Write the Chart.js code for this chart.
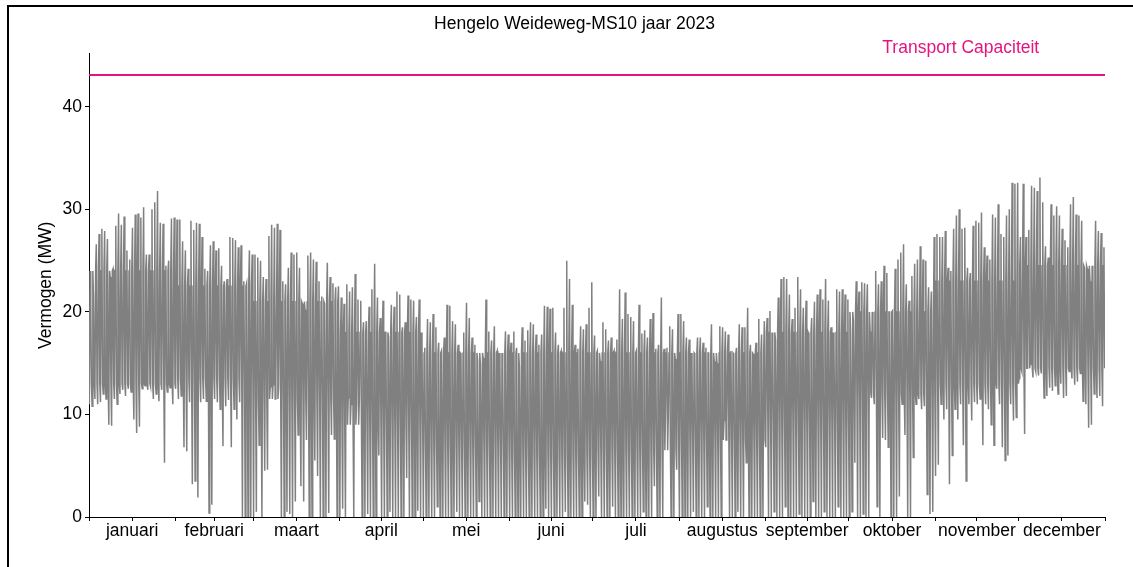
<!DOCTYPE html>
<html>
<head>
<meta charset="utf-8">
<title>Hengelo Weideweg-MS10 jaar 2023</title>
<script src="https://cdn.jsdelivr.net/npm/chart.js@4.4.0/dist/chart.umd.min.js"></script>
<style>
    html, body { margin: 0; padding: 0; background: #fff; overflow: hidden; }
    body { width: 1133px; height: 567px; position: relative; }
    .frame { position: absolute; left: 7px; top: 5px; border-left: 2px solid #000; border-top: 2px solid #000; }
    canvas { display: block; }
</style>
</head>
<body>
<div class="frame"><canvas id="loadChart" width="1131" height="560"></canvas></div>
<script>
const chartTitle = 'Hengelo Weideweg-MS10 jaar 2023';
const monthNames = ['januari', 'februari', 'maart', 'april', 'mei', 'juni',
    'juli', 'augustus', 'september', 'oktober', 'november', 'december'];
const monthDays = [31, 28, 31, 30, 31, 30, 31, 31, 30, 31, 30, 31];

// dense part of the daily load band (MW), per month
const bandTop = [24, 22.5, 21, 18, 16, 16, 16, 16, 18, 20, 23, 24.5];
const bandBottom = [13, 13.5, 11.5, 9, 7, 6, 6.5, 7.5, 9.5, 12, 13, 14.5];

// daily maximum (MW), one row per month
const dailyPeak = [
    21.2, 21.4, 26.6, 27.6, 28.1, 27.9, 27.1, 23.4, 24.2, 28.4, 29.6, 28.5, 29.3, 26.0, 25.1, 28.2, 29.5, 29.6, 29.2, 30.2, 25.6, 25.6, 30.0, 30.7, 31.8, 28.7, 28.6, 24.5, 25.0, 29.1, 29.2,
    29.0, 29.0, 26.9, 26.0, 24.2, 28.9, 28.0, 28.7, 28.6, 27.3, 24.2, 24.0, 26.5, 26.9, 26.0, 26.2, 24.5, 23.0, 23.2, 27.3, 27.2, 27.0, 26.3, 26.5, 23.0, 22.8, 26.0, 25.6,
    25.6, 25.3, 25.0, 23.4, 23.2, 27.4, 28.5, 28.2, 28.6, 28.0, 23.0, 22.7, 24.3, 25.8, 25.6, 25.8, 24.3, 20.8, 20.2, 25.5, 25.8, 25.1, 24.9, 23.0, 21.5, 20.8, 24.8, 23.4, 22.8, 22.4, 22.5,
    21.4, 20.8, 22.7, 22.0, 22.4, 23.7, 21.2, 21.1, 19.0, 19.1, 20.5, 22.2, 24.7, 21.4, 19.4, 21.1, 18.1, 17.5, 20.7, 20.5, 22.0, 21.7, 18.5, 19.0, 21.6, 21.2, 21.1, 19.5, 21.2, 16.5,
    16.5, 19.3, 19.0, 19.8, 18.5, 17.0, 16.2, 17.5, 20.7, 20.6, 19.1, 18.8, 16.8, 15.9, 18.0, 20.9, 19.4, 17.5, 16.8, 15.2, 14.9, 15.5, 21.2, 18.1, 17.2, 18.6, 16.2, 14.9, 14.6, 18.1, 17.8,
    17.0, 18.1, 16.5, 14.6, 18.5, 17.2, 18.2, 19.0, 18.8, 17.8, 16.8, 17.8, 20.6, 20.5, 20.3, 20.4, 18.0, 16.8, 16.2, 20.4, 25.0, 23.2, 20.7, 16.8, 16.4, 18.6, 18.3, 18.8, 20.4, 22.9,
    17.7, 16.2, 15.2, 19.0, 18.3, 17.2, 17.5, 16.2, 17.3, 22.2, 19.3, 21.9, 19.8, 19.5, 19.1, 16.2, 20.7, 17.9, 18.2, 17.5, 19.3, 19.9, 16.4, 16.8, 21.4, 16.4, 16.5, 18.6, 18.3, 15.4, 19.8,
    19.8, 19.1, 17.5, 17.3, 15.0, 15.9, 17.5, 17.5, 17.0, 16.5, 16.0, 18.8, 15.2, 15.0, 18.6, 18.5, 18.1, 17.8, 16.2, 15.9, 16.5, 18.8, 18.5, 18.5, 20.4, 16.8, 15.9, 17.0, 19.3, 17.8, 19.1,
    19.4, 20.1, 16.8, 17.2, 21.4, 23.2, 23.4, 23.2, 21.7, 19.3, 20.4, 23.4, 22.2, 20.4, 21.1, 17.8, 19.4, 21.0, 21.7, 22.2, 21.2, 23.2, 21.1, 18.5, 16.8, 22.2, 22.0, 22.2, 21.7, 21.2,
    18.1, 19.1, 23.0, 22.0, 22.9, 22.8, 22.7, 18.1, 19.0, 24.0, 22.7, 23.0, 24.5, 23.8, 20.0, 20.1, 24.2, 25.1, 25.8, 26.6, 22.7, 21.1, 23.5, 24.7, 25.1, 26.4, 25.1, 25.0, 22.4, 22.0, 27.3,
    27.6, 27.3, 27.3, 27.9, 24.3, 24.0, 28.1, 29.4, 30.0, 28.1, 28.2, 24.3, 23.8, 28.4, 28.9, 28.7, 29.7, 26.3, 25.5, 25.1, 29.5, 29.2, 30.5, 27.6, 27.3, 29.4, 30.0, 32.6, 32.5, 32.6,
    27.3, 32.5, 27.3, 28.0, 32.3, 32.1, 31.8, 33.1, 30.7, 26.4, 25.3, 30.5, 29.4, 30.3, 29.4, 28.1, 27.0, 26.3, 30.5, 31.2, 29.5, 29.4, 28.9, 24.3, 24.2, 23.0, 24.0, 28.9, 27.9, 27.7, 26.3
];

// daily minimum (MW), one row per month
const dailyLow = [
    11, 10.8, 11.5, 11, 11.2, 12, 11.5, 9, 8.9, 11.5, 11, 12, 12.4, 11.8, 12.5, 12.2, 9.5, 8.2, 8.8, 12.5, 12.8, 12.4, 12.7, 11.5, 12, 11.3, 12.4, 5.3, 12.2, 12.6, 11,
    12.5, 11.5, 11.8, 6.8, 6.4, 11.2, 3.2, 3.5, 1.9, 11.2, 11.5, 11.3, 0.4, 1.2, 11.5, 11.2, 10.5, 6.9, 10.8, 11.4, 6.8, 10.5, 9.5, 11.2, 0, 0, 0, 0,
    0, 0.5, 7, 0, 4.5, 4.6, 12.7, 12.9, 13.2, 12.6, 0, 0, 0.5, 0.3, 0, 1.5, 8, 3, 1.5, 7.5, 0, 0, 5.5, 4, 0, 0, 0, 0.4, 8, 7.6, 0,
    0, 0.8, 0, 11.6, 11, 0, 11, 11.5, 0, 0, 0.3, 0, 0, 0, 6, 0, 0, 0, 0.5, 0, 0, 0, 0, 0, 3.8, 0, 0, 0, 0.6, 0,
    0, 0, 0, 0, 0, 1.0, 0, 0, 0, 0, 0, 0, 0.5, 0, 0, 0, 0, 0, 0, 0, 1.5, 0, 0, 0, 0, 0, 0, 0, 0, 0, 0,
    0, 0, 0, 0, 0, 0, 0, 0, 0, 0, 0, 0, 0, 0.8, 0, 0, 0, 0, 0, 0, 0.5, 0, 0, 0, 0, 0, 0, 1.5, 1.2, 0,
    0, 0, 2.0, 0, 0, 0, 0, 1.0, 0, 0, 0, 0, 0, 0, 0, 0, 0, 0, 0.5, 0, 0, 0, 3.0, 0, 0, 0, 10.3, 10.0, 0, 0, 4.6,
    0, 0, 0, 0, 0, 0.5, 0, 0, 0, 0, 1.0, 0, 0, 0, 0, 0, 9.4, 9.0, 0, 0, 0, 0.5, 0, 0, 5.3, 0, 0, 0, 0, 0, 0,
    6.8, 0, 0, 0.5, 0, 0, 0, 1.0, 0, 0, 0, 0, 0.3, 0, 0, 0, 0, 1.5, 0, 0, 0, 0.5, 0, 0, 0, 0, 1.0, 0, 0, 0,
    0, 0.5, 5.3, 0, 0, 0.3, 0, 0, 11.6, 11.0, 1.0, 0, 7.7, 7.5, 6.8, 0, 0, 0, 2.0, 11.0, 8.0, 0, 0, 5.8, 11.0, 11.5, 10.5, 10.8, 2.2, 0.3, 0.5,
    4.0, 5.1, 11.0, 9.5, 10.5, 3.2, 6.0, 10.5, 9.5, 11.0, 7.0, 3.5, 11.0, 9.4, 11.2, 11.0, 11.5, 7.0, 11.0, 10.5, 9.0, 7.0, 12.5, 11.0, 6.8, 5.5, 6.0, 11.0, 9.4, 9.7,
    13.5, 14.2, 8.1, 14.5, 14.9, 13.6, 14.2, 13.8, 14.0, 11.6, 11.8, 12.6, 12.3, 12.8, 12.0, 13.0, 11.6, 11.8, 14.2, 13.5, 12.9, 13.2, 14.0, 11.3, 11.0, 8.7, 9.0, 12.0, 11.6, 11.8, 10.8
];

const capacity = 43.1;
const capacityLabel = 'Transport Capaciteit';
const yTicks = [0, 10, 20, 30, 40];
const yMax = 45.2;

const pink = '#e5137f';
const grey = '#808080';
const fontFamily = '"Liberation Sans", Arial, Helvetica, sans-serif';

// month boundaries and month centres (in days)
const monthStart = [];
const monthMid = [];
let acc = 0;
monthDays.forEach(n => {
    monthStart.push(acc);
    monthMid.push(acc + n / 2);
    acc += n;
});
const yearDays = acc;

// each day: low, top of band, peak, bottom of band
const loadPoints = [];
let day = 0;
monthDays.forEach((n, m) => {
    for (let i = 0; i < n; i++, day++) {
        loadPoints.push({ x: day + 0.125, y: dailyLow[day] });
        loadPoints.push({ x: day + 0.375, y: bandTop[m] });
        loadPoints.push({ x: day + 0.625, y: dailyPeak[day] });
        loadPoints.push({ x: day + 0.875, y: bandBottom[m] });
    }
});

// title over the whole figure width + label for the capacity line
const textPlugin = {
    id: 'figureText',
    afterDatasetsDraw(chart) {
        const { ctx, scales } = chart;
        ctx.save();
        ctx.font = '17.5px ' + fontFamily;
        ctx.textBaseline = 'middle';

        ctx.fillStyle = '#000';
        ctx.textAlign = 'center';
        ctx.fillText(chartTitle, chart.width / 2, 17);

        ctx.fillStyle = pink;
        ctx.textAlign = 'left';
        ctx.fillText(capacityLabel, scales.x.getPixelForValue(285), scales.y.getPixelForValue(45.7));
        ctx.restore();
    }
};

const ctx = document.getElementById('loadChart').getContext('2d');
new Chart(ctx, {
    type: 'line',
    data: {
        datasets: [{
            label: 'Vermogen',
            data: loadPoints,
            borderColor: grey,
            borderWidth: 1.5,
            pointRadius: 0,
            tension: 0,
            fill: false
        }, {
            label: capacityLabel,
            data: [{ x: 0, y: capacity }, { x: yearDays, y: capacity }],
            borderColor: pink,
            borderWidth: 2,
            pointRadius: 0,
            fill: false
        }]
    },
    options: {
        responsive: false,
        animation: false,
        parsing: false,
        normalized: true,
        layout: { padding: { left: 23, right: 35, top: 46.5, bottom: 25 } },
        plugins: {
            legend: { display: false },
            tooltip: { enabled: false },
            title: { display: false }
        },
        scales: {
            x: {
                type: 'linear',
                min: 0,
                max: yearDays,
                afterBuildTicks: scale => {
                    const vals = monthStart.concat([yearDays], monthMid).sort((a, b) => a - b);
                    scale.ticks = vals.map(v => ({ value: v }));
                },
                grid: { drawOnChartArea: false, drawTicks: true, tickLength: 4, color: '#000' },
                border: { display: true, color: '#000', width: 1 },
                ticks: {
                    autoSkip: false,
                    maxRotation: 0,
                    padding: 0,
                    color: '#000',
                    font: { family: fontFamily, size: 17.5 },
                    callback: value => {
                        const i = monthMid.indexOf(value);
                        return i >= 0 ? monthNames[i] : '';
                    }
                }
            },
            y: {
                min: 0,
                max: yMax,
                afterBuildTicks: scale => {
                    scale.ticks = yTicks.map(v => ({ value: v }));
                },
                afterFit: scale => { scale.width = 57; },
                grid: { drawOnChartArea: false, drawTicks: true, tickLength: 4, color: '#000' },
                border: { display: true, color: '#000', width: 1 },
                ticks: {
                    padding: 3,
                    color: '#000',
                    font: { family: fontFamily, size: 17.5 }
                },
                title: {
                    display: true,
                    text: 'Vermogen (MW)',
                    color: '#000',
                    font: { family: fontFamily, size: 17.5 },
                    padding: { top: 4, bottom: 4 }
                }
            }
        }
    },
    plugins: [textPlugin]
});
</script>
</body>
</html>
